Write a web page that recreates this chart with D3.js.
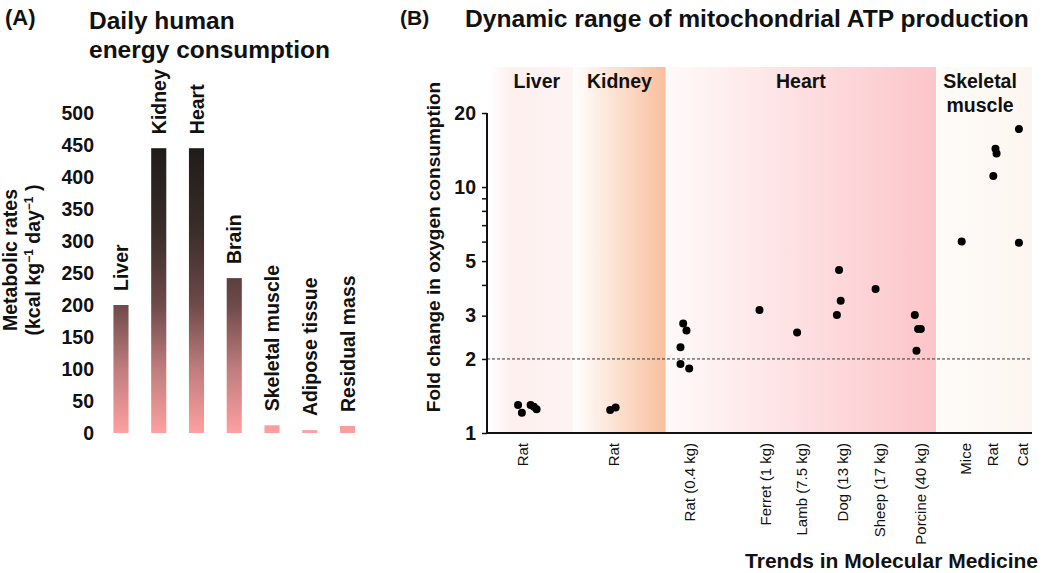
<!DOCTYPE html>
<html><head><meta charset="utf-8">
<script src="https://cdn.jsdelivr.net/npm/d3@7"></script>
<style>
body{margin:0;background:#fff;}
text{font-family:"Liberation Sans",Arial,Helvetica,sans-serif;fill:#111;}
</style></head>
<body>
<svg id="chart" width="1050" height="573"></svg>
<script>
// ---- Panel A data ----
const barCategories = ["Liver","Kidney","Heart","Brain","Skeletal muscle","Adipose tissue","Residual mass"];
const barValues = [200, 445, 445, 242, 12, 4.5, 11];
const barTicks = [0,50,100,150,200,250,300,350,400,450,500];

// ---- Panel B data ----
const tissueGroups = ["Liver","Kidney","Heart","Skeletal muscle"];
const tissueStart = [1, 15.8, 32.8, 82.4];
const tissueEnd = [15.8, 32.8, 82.4, 100];
const speciesLabels = ["Rat","Rat","Rat (0.4 kg)","Ferret (1 kg)","Lamb (7.5 kg)","Dog (13 kg)","Sheep (17 kg)","Porcine (40 kg)","Mice","Rat","Cat"];
const speciesPos = [6.6, 23.3, 37.1, 51.2, 57.8, 65.3, 72.1, 79.6, 87.9, 92.7, 98.3];
const pointX = [5.7,6.4,8.0,8.6,9.1, 22.6,23.6, 36.0,36.6,35.5,35.5,37.1, 50.0, 56.9, 64.6,64.9,64.2, 71.3, 78.5,79.1,79.6,78.8, 87.1, 93.3,93.5,92.9, 97.6,97.6];
const pointY = [1.30,1.21,1.30,1.28,1.25, 1.24,1.27, 2.79,2.61,2.23,1.91,1.83, 3.16, 2.56, 4.60,3.45,3.02, 3.85, 3.02,2.65,2.65,2.16, 6.0, 14.3,13.7,11.1, 17.2,5.94];
const logTicks = [1,2,3,4,5,6,7,8,9,10,20];
const logTickLabels = [1,2,3,5,10,20];
const thresholdValue = 2;

const svg = d3.select("#chart");
const defs = svg.append("defs");

// ================= Panel A =================
svg.append("text").attr("x",5).attr("y",25).attr("font-size",22).attr("font-weight","bold").text("(A)");
svg.append("text").attr("x",89).attr("y",29).attr("font-size",24.5).attr("font-weight","bold").text("Daily human");
svg.append("text").attr("x",89).attr("y",58).attr("font-size",24.5).attr("font-weight","bold").text("energy consumption");

const yA = d3.scaleLinear().domain([0,500]).range([433,113]);
const xA = d3.scaleBand().domain(barCategories).range([102.1,366.4]).paddingInner(0.6).paddingOuter(0.3);

const gradA = defs.append("linearGradient").attr("id","barGrad")
  .attr("gradientUnits","userSpaceOnUse").attr("x1",0).attr("x2",0)
  .attr("y1",yA(0)).attr("y2",yA(450));
[[0,"#ffa0a0"],[0.22,"#c07d7d"],[0.45,"#6d4949"],[0.7,"#3a2d2a"],[1,"#1f1b19"]].forEach(s=>{
  gradA.append("stop").attr("offset",s[0]).attr("stop-color",s[1]);
});

const axA = svg.append("g").attr("transform","translate(100,0)")
  .call(d3.axisLeft(yA).tickValues(barTicks).tickSize(0).tickPadding(6));
axA.select(".domain").remove();
axA.selectAll("text").attr("font-size",19.5).attr("font-weight","bold")
  .style("font-family","'Liberation Sans',Arial,sans-serif").attr("fill","#111");

svg.append("g").selectAll("rect").data(barCategories).join("rect")
  .attr("x",d=>xA(d)).attr("width",xA.bandwidth())
  .attr("y",(d,i)=>yA(barValues[i])).attr("height",(d,i)=>yA(0)-yA(barValues[i]))
  .attr("fill","url(#barGrad)");

svg.append("g").selectAll("text").data(barCategories).join("text")
  .attr("transform",(d,i)=>`translate(${xA(d)+xA.bandwidth()/2},${yA(barValues[i])-14}) rotate(-90)`)
  .attr("dy","0.36em").attr("font-size",19.5).attr("font-weight","bold").text(d=>d);

const yLabA = svg.append("text").attr("transform","translate(17,260) rotate(-90)")
  .attr("text-anchor","middle").attr("font-size",19.5).attr("font-weight","bold");
yLabA.append("tspan").attr("x",0).attr("y",0).text("Metabolic rates");
const l2 = yLabA.append("tspan").attr("x",0).attr("y",23);
l2.append("tspan").text("(kcal kg");
l2.append("tspan").attr("font-size",12).attr("dy",-7).text("−1");
l2.append("tspan").attr("dy",7).text(" day");
l2.append("tspan").attr("font-size",12).attr("dy",-7).text("−1");
l2.append("tspan").attr("dy",7).text(" )");

// ================= Panel B =================
svg.append("text").attr("x",400).attr("y",25).attr("font-size",21).attr("font-weight","bold").text("(B)");
svg.append("text").attr("x",465).attr("y",27).attr("font-size",24.6).attr("font-weight","bold").text("Dynamic range of mitochondrial ATP production");

const xB = d3.scaleLinear().domain([0,100]).range([487,1032]);
const yB = d3.scaleLog().domain([1,20]).range([433,113]);
const bandTop = 67;

const bandStops = [
  [[0,"#fffbfb"],[0.25,"#fdf0ef"],[1,"#fdf4f3"]],
  [[0,"#ffffff"],[1,"#f8bf9d"]],
  [[0,"#fffafa"],[1,"#fcc5c9"]],
  [[0,"#fefbf8"],[1,"#fdf6f0"]]
];
tissueGroups.forEach((g,i)=>{
  const gr = defs.append("linearGradient").attr("id","band"+i).attr("x1","0").attr("x2","1").attr("y1","0").attr("y2","0");
  bandStops[i].forEach(s=>gr.append("stop").attr("offset",s[0]).attr("stop-color",s[1]));
});
svg.append("g").selectAll("rect").data(tissueGroups).join("rect")
  .attr("x",(d,i)=>xB(tissueStart[i])).attr("width",(d,i)=>xB(tissueEnd[i])-xB(tissueStart[i]))
  .attr("y",bandTop).attr("height",yB(1)-bandTop)
  .attr("fill",(d,i)=>`url(#band${i})`);

// band labels
const bandLabels = svg.append("g");
tissueGroups.forEach((g,i)=>{
  const cx = (xB(tissueStart[i])+xB(tissueEnd[i]))/2 + (i===0?4:(i===3?-4:0));
  const words = g==="Skeletal muscle" ? ["Skeletal","muscle"] : [g];
  words.forEach((w,j)=>{
    bandLabels.append("text").attr("x",cx).attr("y",88+j*24).attr("text-anchor","middle")
      .attr("font-size",19.5).attr("font-weight","bold").text(w);
  });
});

// dashed threshold
svg.append("line").attr("x1",xB(0)).attr("x2",xB(100)).attr("y1",yB(thresholdValue)).attr("y2",yB(thresholdValue))
  .attr("stroke","#333").attr("stroke-width",1).attr("stroke-dasharray","3,2");

// y axis
const axB = svg.append("g").attr("transform",`translate(${xB(0)},0)`)
  .call(d3.axisLeft(yB).tickValues(logTicks).tickSize(5).tickPadding(6)
    .tickFormat(d=>logTickLabels.includes(d)?d:""));
axB.select(".domain").attr("stroke","#111").attr("stroke-width",2).attr("d",`M0,${yB(20)}V${yB(1)}`);
axB.selectAll(".tick line").attr("stroke","#111").attr("stroke-width",1.5);
axB.selectAll("text").attr("font-size",19.5).attr("font-weight","bold")
  .style("font-family","'Liberation Sans',Arial,sans-serif").attr("fill","#111");

// x axis line + labels
svg.append("line").attr("x1",xB(0)-1).attr("x2",xB(100)).attr("y1",yB(1)).attr("y2",yB(1))
  .attr("stroke","#111").attr("stroke-width",2.2);
svg.append("g").selectAll("text").data(speciesLabels).join("text")
  .attr("transform",(d,i)=>`translate(${xB(speciesPos[i])},443) rotate(-90)`)
  .attr("text-anchor","end").attr("dy","0.36em").attr("font-size",15).attr("fill","#222").text(d=>d);

// points
svg.append("g").selectAll("circle").data(pointY).join("circle")
  .attr("cx",(d,i)=>xB(pointX[i])).attr("cy",d=>yB(d)).attr("r",4).attr("fill","#000");

// y label B
svg.append("text").attr("transform","translate(440,247) rotate(-90)").attr("text-anchor","middle")
  .attr("font-size",19).attr("font-weight","bold").text("Fold change in oxygen consumption");

svg.append("text").attr("x",1038).attr("y",568).attr("text-anchor","end").attr("font-size",21)
  .attr("font-weight","bold").text("Trends in Molecular Medicine");
</script>
</body></html>
